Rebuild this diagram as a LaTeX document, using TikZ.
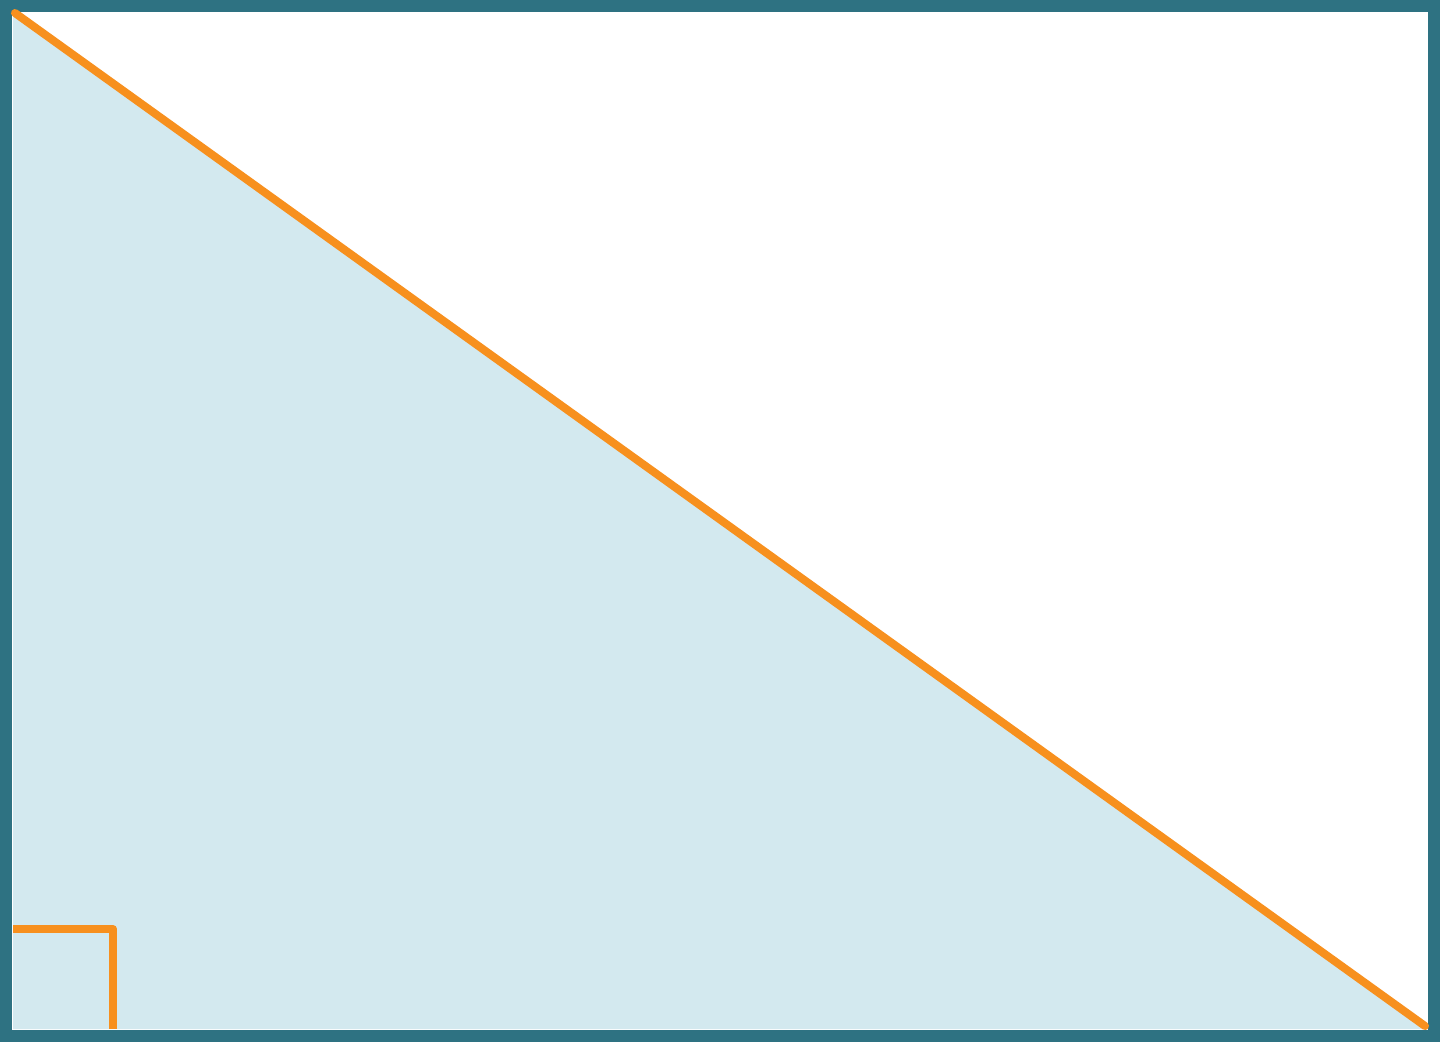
\documentclass[tikz,border=0pt]{standalone}
\usepackage{xcolor}
\usepackage{tikz}
\usetikzlibrary{positioning}
\definecolor{frameteal}{HTML}{2E7282}
\definecolor{hypoorange}{HTML}{F7901E}
\definecolor{trifill}{HTML}{D3E9EF}

\begin{document}
\begin{tikzpicture}[x=0.02cm, y=-0.02cm,
                          frame/.style={line width=0.24cm, frameteal},
                          hypo/.style={line width=0.16cm, hypoorange, line cap=round},
                          rightangle/.style={line width=0.16cm, hypoorange, line join=round},
                         ]

\useasboundingbox (0,0) rectangle (1440,1042);

\coordinate (TL) at (13,11);
\coordinate (BL) at (13,1029);
\coordinate (BR) at (1428,1029);

\fill[trifill] (TL) -- (BL) -- (BR) -- cycle;

\draw[frame] (6,6) rectangle (1434,1036);

\draw[hypo] (15,13) -- (1425,1026);

\draw[rightangle] (13,929) -- (113,929) -- (113,1029);

\end{tikzpicture}
\end{document}
